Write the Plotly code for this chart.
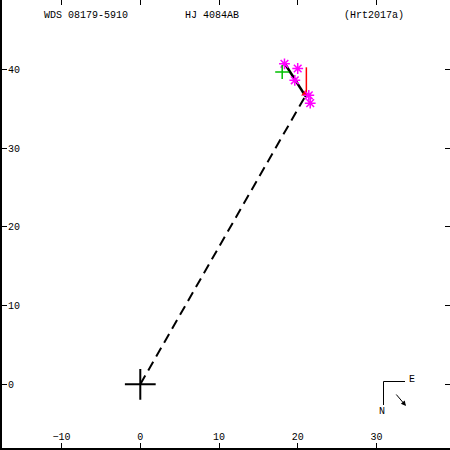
import plotly.graph_objects as go

# data (arcsec-like units)
obs_x = [18.32, 20.0, 19.63, 21.41, 21.59]
obs_y = [40.7, 40.1, 38.6, 36.7, 35.7]
first_x = [18.03]
first_y = [39.66]
orbit_x = [18.25, 21.05]
orbit_y = [40.9, 36.5]
dash_x = [0, 21.05]
dash_y = [0, 36.74]
resid_x = [21.1, 21.1]
resid_y = [40.25, 36.7]
red_x = [20.95]
red_y = [36.9]
ticks = [-10, 0, 10, 20, 30]
yticks = [0, 10, 20, 30, 40]
titles = ["WDS 08179-5910", "HJ 4084AB", "(Hrt2017a)"]

FONT = "Liberation Mono"
xr = [-17.57, 39.35]
yr = [-8.09, 48.8]

fig = go.Figure()
fig.add_trace(go.Scatter(x=dash_x, y=dash_y, mode="lines",
                         line=dict(color="black", width=2, dash="10px,6px")))
fig.add_trace(go.Scatter(x=orbit_x, y=orbit_y, mode="lines",
                         line=dict(color="black", width=2.5)))
fig.add_trace(go.Scatter(x=resid_x, y=resid_y, mode="lines",
                         line=dict(color="red", width=1.5)))
fig.add_trace(go.Scatter(x=red_x, y=red_y, mode="markers",
                         marker=dict(symbol="triangle-up", color="red", size=7)))
fig.add_trace(go.Scatter(x=obs_x, y=obs_y, mode="markers",
                         marker=dict(symbol="asterisk-open", size=9, color="#ff00ff",
                                     line=dict(color="#ff00ff", width=1.5))))
fig.add_trace(go.Scatter(x=first_x, y=first_y, mode="markers",
                         marker=dict(symbol="cross-thin-open", size=10, color="#00c000",
                                     line=dict(color="#00c000", width=1.5))))
fig.add_trace(go.Scatter(x=[0], y=[0], mode="markers",
                         marker=dict(symbol="cross-thin-open", size=22, color="black",
                                     line=dict(color="black", width=2))))

# hidden trace for mirrored axes
fig.add_trace(go.Scatter(x=[0], y=[0], xaxis="x2", yaxis="y2", mode="markers",
                         marker=dict(opacity=0), hoverinfo="skip"))

axfont = dict(family=FONT, size=10, color="black")
fig.update_layout(
    width=450, height=450, showlegend=False,
    margin=dict(l=2, r=0, t=0, b=2, pad=0, autoexpand=False),
    paper_bgcolor="white", plot_bgcolor="white",
    xaxis=dict(range=xr, tickvals=ticks, ticks="inside", ticklen=5, tickwidth=1,
               tickcolor="black", ticklabelposition="inside", tickfont=axfont,
               showgrid=False, zeroline=False, showline=True, linecolor="black",
               linewidth=2, automargin=False),
    yaxis=dict(range=yr, tickvals=yticks, ticks="inside", ticklen=5, tickwidth=1,
               tickcolor="black", ticklabelposition="inside", tickfont=axfont,
               showgrid=False, zeroline=False, showline=True, linecolor="black",
               linewidth=2, automargin=False),
    xaxis2=dict(range=xr, overlaying="x", side="top", tickvals=ticks, ticks="inside",
                ticklen=5, tickcolor="black", showticklabels=False, showgrid=False,
                zeroline=False, showline=False, automargin=False),
    yaxis2=dict(range=yr, overlaying="y", side="right", tickvals=yticks, ticks="inside",
                ticklen=5, tickcolor="black", showticklabels=False, showgrid=False,
                zeroline=False, showline=False, automargin=False),
)

W, H = 448.0, 448.0
def px(x):
    return (x - 2) / W
def py(y):
    return (448 - y) / H

tfont = dict(family=FONT, size=10, color="black")
for t, cx in zip(titles, [86, 212, 374]):
    fig.add_annotation(x=px(cx), y=py(16), xref="paper", yref="paper", text=t,
                       showarrow=False, font=tfont, xanchor="center", yanchor="middle")

# compass
fig.add_shape(type="line", xref="paper", yref="paper",
              x0=px(383.5), y0=py(381.5), x1=px(405), y1=py(381.5),
              line=dict(color="black", width=1))
fig.add_shape(type="line", xref="paper", yref="paper",
              x0=px(383.5), y0=py(381.5), x1=px(383.5), y1=py(405),
              line=dict(color="black", width=1))
fig.add_annotation(x=px(412), y=py(379), xref="paper", yref="paper", text="E",
                   showarrow=False, font=tfont, xanchor="center", yanchor="middle")
fig.add_annotation(x=px(382), y=py(411), xref="paper", yref="paper", text="N",
                   showarrow=False, font=tfont, xanchor="center", yanchor="middle")
fig.add_annotation(x=px(406), y=py(406), ax=-11, ay=-13, xref="paper", yref="paper",
                   text="", showarrow=True,
                   arrowhead=2, arrowsize=1, arrowwidth=1, arrowcolor="black")

fig.write_html("out.html", config={"displayModeBar": False},
               post_script="document.body.style.margin='0';document.body.style.overflow='hidden';")
